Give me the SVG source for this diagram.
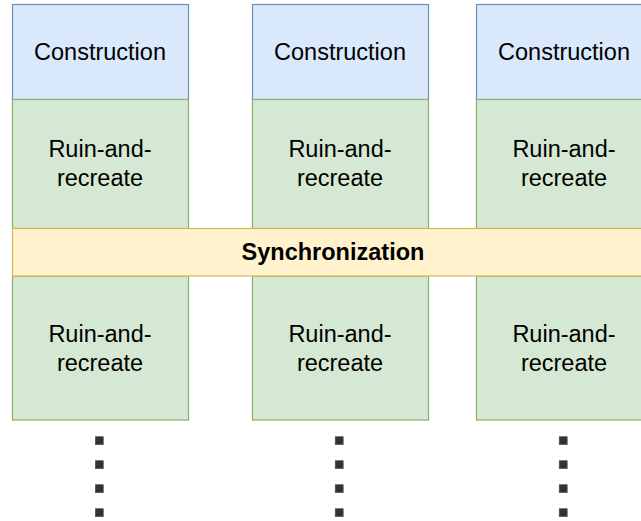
<svg xmlns="http://www.w3.org/2000/svg" width="641" height="521" viewBox="0 0 641 521">
<style>
.c{fill:#dae8fc;stroke:#6c8ebf;stroke-width:1.2}
.r{fill:#d5e8d4;stroke:#82b366;stroke-width:1.2}
.s{fill:#fff2cc;stroke:#d6b656;stroke-width:1.2}
text{font-family:"Liberation Sans",Arial,sans-serif;font-size:23.5px;fill:#000;text-anchor:middle}
.b{font-weight:bold}
.d{fill:#333;stroke:#555;stroke-width:0.6}
</style>
<rect width="641" height="521" fill="#fff"/>
<g id="col1">
<g id="construction1"><rect class="c" x="12.5" y="4.5" width="176" height="95"/><text x="100" y="59.5">Construction</text></g>
<g id="ruin1a"><rect class="r" x="12.5" y="99.5" width="176" height="129"/><text x="100" y="157">Ruin-and-</text><text x="100" y="185.5">recreate</text></g>
<g id="ruin1b"><rect class="r" x="12.5" y="276" width="176" height="144"/><text x="100" y="342">Ruin-and-</text><text x="100" y="370.5">recreate</text></g>
</g>
<g id="col2">
<g id="construction2"><rect class="c" x="252.5" y="4.5" width="176" height="95"/><text x="340" y="59.5">Construction</text></g>
<g id="ruin2a"><rect class="r" x="252.5" y="99.5" width="176" height="129"/><text x="340" y="157">Ruin-and-</text><text x="340" y="185.5">recreate</text></g>
<g id="ruin2b"><rect class="r" x="252.5" y="276" width="176" height="144"/><text x="340" y="342">Ruin-and-</text><text x="340" y="370.5">recreate</text></g>
</g>
<g id="col3">
<g id="construction3"><rect class="c" x="476.5" y="4.5" width="176" height="95"/><text x="564" y="59.5">Construction</text></g>
<g id="ruin3a"><rect class="r" x="476.5" y="99.5" width="176" height="129"/><text x="564" y="157">Ruin-and-</text><text x="564" y="185.5">recreate</text></g>
<g id="ruin3b"><rect class="r" x="476.5" y="276" width="176" height="144"/><text x="564" y="342">Ruin-and-</text><text x="564" y="370.5">recreate</text></g>
</g>
<g id="sync"><rect class="s" x="12.5" y="228.5" width="642" height="47.5"/><text class="b" x="333" y="260">Synchronization</text></g>
<g id="dots">
<rect class="d" x="95.3" y="436.7" width="8" height="8"/><rect class="d" x="95.3" y="460.7" width="8" height="8"/><rect class="d" x="95.3" y="484.7" width="8" height="8"/><rect class="d" x="95.3" y="508.7" width="8" height="8"/>
<rect class="d" x="335.2" y="436.7" width="8" height="8"/><rect class="d" x="335.2" y="460.7" width="8" height="8"/><rect class="d" x="335.2" y="484.7" width="8" height="8"/><rect class="d" x="335.2" y="508.7" width="8" height="8"/>
<rect class="d" x="559.2" y="436.7" width="8" height="8"/><rect class="d" x="559.2" y="460.7" width="8" height="8"/><rect class="d" x="559.2" y="484.7" width="8" height="8"/><rect class="d" x="559.2" y="508.7" width="8" height="8"/>
</g>
</svg>
